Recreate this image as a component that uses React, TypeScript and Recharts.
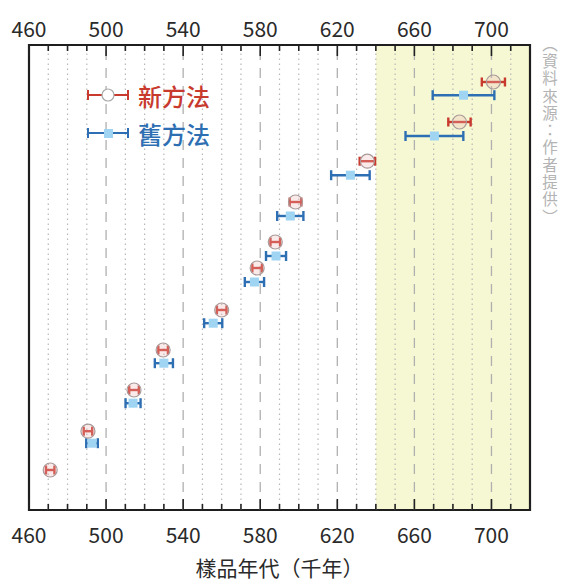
import React from "react";
import {
  ScatterChart,
  Scatter,
  XAxis,
  YAxis,
  ErrorBar,
  ReferenceLine,
  ReferenceArea,
  Legend,
} from "recharts";

// x axis: sample age (thousand years)
const allTicks = [460, 470, 480, 490, 500, 510, 520, 530, 540, 550, 560, 570, 580, 590, 600, 610, 620, 630, 640, 650, 660, 670, 680, 690, 700, 710, 720];
const labelTicks = [460, 500, 540, 580, 620, 660, 700];
const dashedLines = [500, 540, 580, 620, 660, 700];
const dottedLines = [470, 480, 490, 510, 520, 530, 550, 560, 570, 590, 600, 610, 630, 640, 650, 670, 680, 690, 710];
const shadeFrom = 640;
const shadeTo = 720;

// new method (top row first)
const newAge = [701, 683.4, 635.6, 598.3, 587.8, 578.4, 560, 529.6, 514.5, 490.6, 471];
const newErr = [6, 5.8, 4, 3, 2.5, 2.5, 2.5, 2.5, 2.5, 2.2, 2.2];
const newRow = [10.7, 9.7, 8.72, 7.7, 6.7, 6.05, 5.0, 4.0, 3.0, 1.97, 1.0];

// old method
const oldAge = [685.5, 670.4, 626.8, 595.6, 588.2, 577, 555.6, 530, 514, 492.7];
const oldErr = [16, 15, 10, 6.8, 5.2, 5, 4.7, 4.7, 3.9, 3];
const oldRow = [10.37, 9.35, 8.37, 7.35, 6.35, 5.7, 4.67, 3.67, 2.67, 1.67];

const newData = newAge.map((age, i) => ({ age, err: newErr[i], row: newRow[i] }));
const oldData = oldAge.map((age, i) => ({ age, err: oldErr[i], row: oldRow[i] }));

const RED = "#c8392e";
const BLUE = "#2e6fb3";
const FONT = '"Noto Sans CJK TC", "Noto Sans", sans-serif';

const legendItems = [
  { label: "新方法", color: RED, marker: "circle" },
  { label: "舊方法", color: BLUE, marker: "square" },
];

const makeTick = (side: "top" | "bottom") => (props: any) => {
  const { x, y, payload } = props;
  const v = payload.value;
  const major = labelTicks.includes(v);
  const dir = side === "bottom" ? -1 : 1;
  const len = major ? 11 : 6;
  return (
    <g>
      <line x1={x} x2={x} y1={y} y2={y + dir * len} stroke="#222" strokeWidth={1.6} />
      {major && (
        <text
          x={x}
          y={side === "bottom" ? y + 24 : y - 17}
          textAnchor="middle"
          dominantBaseline="central"
          fill="#2a2a2a"
          fontSize={21}
          fontFamily={FONT}
        >
          {v}
        </text>
      )}
    </g>
  );
};

const renderLegend = () => (
  <div style={{ fontFamily: FONT }}>
    {legendItems.map((it) => (
      <div key={it.label} style={{ display: "flex", alignItems: "center", height: 38 }}>
        <svg width={44} height={20}>
          <line x1={2} x2={42} y1={10} y2={10} stroke={it.color} strokeWidth={2} />
          <line x1={2} x2={2} y1={5} y2={15} stroke={it.color} strokeWidth={2} />
          <line x1={42} x2={42} y1={5} y2={15} stroke={it.color} strokeWidth={2} />
          {it.marker === "circle" ? (
            <circle cx={22} cy={10} r={6} fill="#fff" stroke="#aaa" strokeWidth={1.2} />
          ) : (
            <rect x={18} y={6} width={9} height={9} fill="#9fd4f2" />
          )}
        </svg>
        <span style={{ color: it.color, fontSize: 24, marginLeft: 8, fontWeight: 500 }}>{it.label}</span>
      </div>
    ))}
  </div>
);

const App = () => (
  <div style={{ position: "absolute", left: 0, top: 0, width: 562, height: 583, background: "#fff" }}>
    <ScatterChart width={562} height={583} margin={{ top: 15, right: 32, bottom: 43, left: 29 }}>
      <XAxis
        xAxisId="bottom"
        type="number"
        dataKey="age"
        orientation="bottom"
        domain={[460, 720]}
        ticks={allTicks}
        interval={0}
        height={30}
        tickSize={0}
        tickMargin={0}
        axisLine={false}
        tick={makeTick("bottom")}
        label={{
          value: "樣品年代（千年）",
          position: "bottom",
          offset: 21,
          fontSize: 21,
          fill: "#2a2a2a",
          fontFamily: FONT,
        }}
      />
      <XAxis
        xAxisId="top"
        type="number"
        dataKey="age"
        orientation="top"
        domain={[460, 720]}
        ticks={allTicks}
        interval={0}
        height={30}
        tickSize={0}
        tickMargin={0}
        axisLine={false}
        tick={makeTick("top")}
      />
      <YAxis type="number" dataKey="row" domain={[0, 11.625]} hide />
      <ReferenceArea xAxisId="bottom" x1={shadeFrom} x2={shadeTo} fill="#f5f8d2" fillOpacity={1} stroke="none" />
      {dottedLines.map((v) => (
        <ReferenceLine key={"d" + v} xAxisId="bottom" x={v} stroke="#b8b8b8" strokeWidth={1.2} strokeDasharray="1.5 3.5" />
      ))}
      {dashedLines.map((v) => (
        <ReferenceLine key={"D" + v} xAxisId="bottom" x={v} stroke="#b0b0b0" strokeWidth={1.3} strokeDasharray="10 8" />
      ))}
      <Legend
        content={renderLegend}
        layout="horizontal"
        verticalAlign="middle"
        align="center"
        wrapperStyle={{ left: 86, top: 76, width: 160, height: 80 }}
      />
      {/* invisible series that ties the top axis to the data */}
      <Scatter xAxisId="top" data={newData} isAnimationActive={false} legendType="none" shape={() => <g />} />
      <Scatter
        xAxisId="bottom"
        data={oldData}
        isAnimationActive={false}
        legendType="none"
        shape={(p: any) => <rect x={p.cx - 4.5} y={p.cy - 4.5} width={9} height={9} fill="#9fd4f2" />}
      >
        <ErrorBar dataKey="err" direction="x" width={5} stroke={BLUE} strokeWidth={2.4} />
      </Scatter>
      <Scatter
        xAxisId="bottom"
        data={newData}
        isAnimationActive={false}
        legendType="none"
        shape={(p: any) => (
          <circle cx={p.cx} cy={p.cy} r={7} fill="rgba(240,185,185,0.3)" stroke="#a99a9a" strokeWidth={1.2} />
        )}
      >
        <ErrorBar dataKey="err" direction="x" width={4.5} stroke={RED} strokeWidth={2.4} />
      </Scatter>
      <ReferenceArea
        xAxisId="bottom"
        x1={460}
        x2={720}
        y1={0}
        y2={11.625}
        fill="none"
        stroke="#1e1e1e"
        strokeWidth={2.2}
      />
    </ScatterChart>
    <div
      style={{
        position: "absolute",
        left: 539,
        top: 36,
        writingMode: "vertical-rl",
        color: "#b3b3b3",
        fontSize: 15.5,
        letterSpacing: 1.8,
        fontFamily: FONT,
      }}
    >
      （資料來源：作者提供）
    </div>
  </div>
);

export default App;
